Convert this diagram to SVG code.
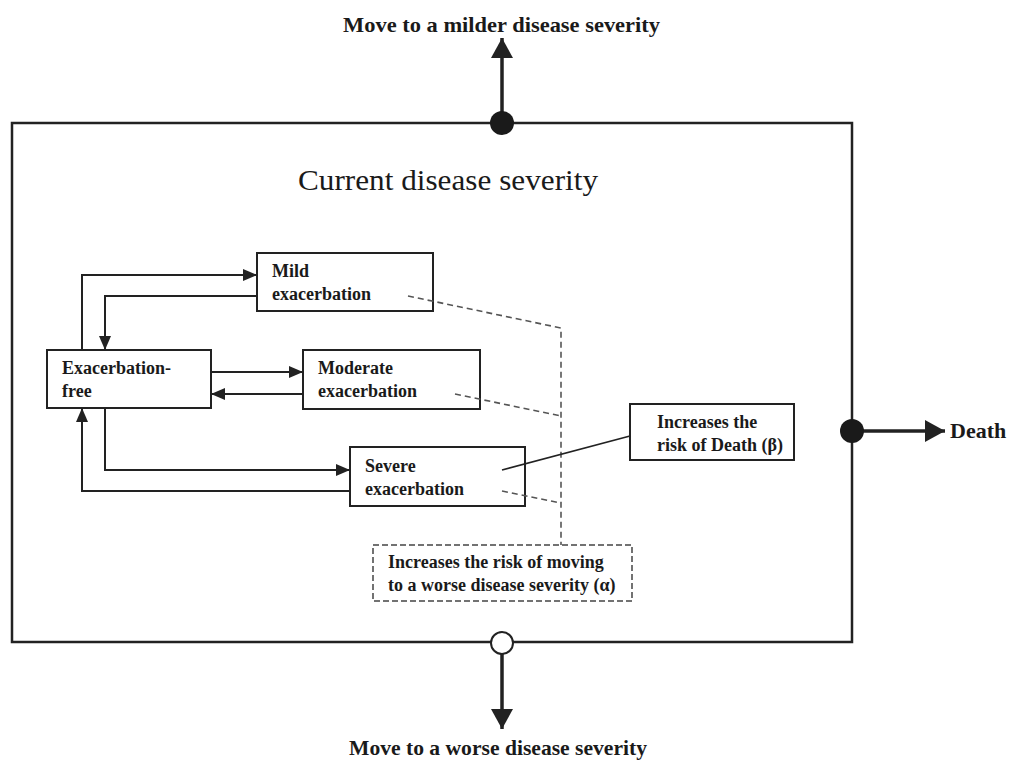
<svg xmlns="http://www.w3.org/2000/svg" width="1016" height="760" viewBox="0 0 1016 760">
  <defs>
    <style>
      .frame { fill: none; stroke: #222; stroke-width: 2.5; }
      .box { fill: #fff; stroke: #222; stroke-width: 2; }
      .dbox { fill: #fff; stroke: #444; stroke-width: 1.5; stroke-dasharray: 6 3; }
      .lbl { font-family: "Liberation Serif", "Times New Roman", serif; font-size: 18px; font-weight: bold; fill: #1a1a1a; }
      .big { font-family: "Liberation Serif", "Times New Roman", serif; font-size: 22px; font-weight: bold; fill: #1a1a1a; }
      .title { font-family: "Liberation Serif", "Times New Roman", serif; font-size: 29px; fill: #1a1a1a; }
      .flow { fill: none; stroke: #222; stroke-width: 2; }
      .exit { fill: none; stroke: #222; stroke-width: 3.5; }
      .dash { fill: none; stroke: #555; stroke-width: 1.6; stroke-dasharray: 6 4; }
      .link { fill: none; stroke: #222; stroke-width: 1.8; }
    </style>
    <marker id="arr" markerUnits="userSpaceOnUse" markerWidth="14" markerHeight="12" refX="14" refY="6" orient="auto">
      <path d="M0,0 L14,6 L0,12 z" fill="#222"/>
    </marker>
    <marker id="arrBig" markerUnits="userSpaceOnUse" markerWidth="20" markerHeight="22" refX="20" refY="11" orient="auto">
      <path d="M0,0 L20,11 L0,22 z" fill="#222"/>
    </marker>
  </defs>

  <!-- outer state: current disease severity -->
  <g id="current-severity">
    <rect class="frame" x="12" y="123" width="840" height="519"/>
    <text class="title" x="298" y="190" textLength="300" lengthAdjust="spacingAndGlyphs">Current disease severity</text>
  </g>

  <!-- exits from the current state -->
  <g id="exit-milder">
    <text class="big" x="343" y="32" textLength="317" lengthAdjust="spacingAndGlyphs">Move to a milder disease severity</text>
  </g>
  <g id="exit-worse">
    <text class="big" x="349" y="755" textLength="298" lengthAdjust="spacingAndGlyphs">Move to a worse disease severity</text>
  </g>
  <g id="exit-death">
    <text class="big" x="950" y="438">Death</text>
  </g>

  <!-- sub-states -->
  <g id="mild">
    <rect class="box" x="257" y="253" width="176" height="58"/>
    <text class="lbl" x="272" y="277">Mild</text>
    <text class="lbl" x="272" y="300">exacerbation</text>
  </g>
  <g id="exacerbation-free">
    <rect class="box" x="47" y="350" width="164" height="58"/>
    <text class="lbl" x="62" y="374">Exacerbation-</text>
    <text class="lbl" x="62" y="397">free</text>
  </g>
  <g id="moderate">
    <rect class="box" x="303" y="350" width="177" height="59"/>
    <text class="lbl" x="318" y="374">Moderate</text>
    <text class="lbl" x="318" y="397">exacerbation</text>
  </g>
  <g id="severe">
    <rect class="box" x="350" y="447" width="175" height="59"/>
    <text class="lbl" x="365" y="472">Severe</text>
    <text class="lbl" x="365" y="495">exacerbation</text>
  </g>
  <g id="risk-death">
    <rect class="box" x="630" y="404" width="164" height="56"/>
    <text class="lbl" x="657" y="428">Increases the</text>
    <text class="lbl" x="657" y="451">risk of Death (β)</text>
  </g>
  <g id="risk-worse">
    <rect class="dbox" x="373" y="545" width="259" height="56"/>
    <text class="lbl" x="388" y="568">Increases the risk of moving</text>
    <text class="lbl" x="388" y="591">to a worse disease severity (α)</text>
  </g>

  <g id="connectors">
    <!-- transitions between exacerbation states -->
    <path class="flow" d="M82,350 V275 H257" marker-end="url(#arr)"/>
    <path class="flow" d="M257,296 H105 V350" marker-end="url(#arr)"/>
    <path class="flow" d="M211,372 H303" marker-end="url(#arr)"/>
    <path class="flow" d="M303,394 H211" marker-end="url(#arr)"/>
    <path class="flow" d="M105,408 V470 H350" marker-end="url(#arr)"/>
    <path class="flow" d="M350,491 H82 V408" marker-end="url(#arr)"/>

    <!-- effects of exacerbations -->
    <path class="dash" d="M408,296 L561,328 V545"/>
    <path class="dash" d="M455,394 L561,416"/>
    <path class="dash" d="M502,491 L561,503"/>
    <path class="link" d="M502,470 L630,436"/>

    <!-- exits from the frame -->
    <path class="exit" d="M502,112 V38" marker-end="url(#arrBig)"/>
    <path class="exit" d="M502,654 V729" marker-end="url(#arrBig)"/>
    <path class="exit" d="M863,431 H945" marker-end="url(#arrBig)"/>
    <circle cx="502" cy="123" r="12" fill="#1a1a1a"/>
    <circle cx="852" cy="431" r="12" fill="#1a1a1a"/>
    <circle cx="502" cy="643" r="11" fill="#fff" stroke="#222" stroke-width="2"/>
  </g>
</svg>
